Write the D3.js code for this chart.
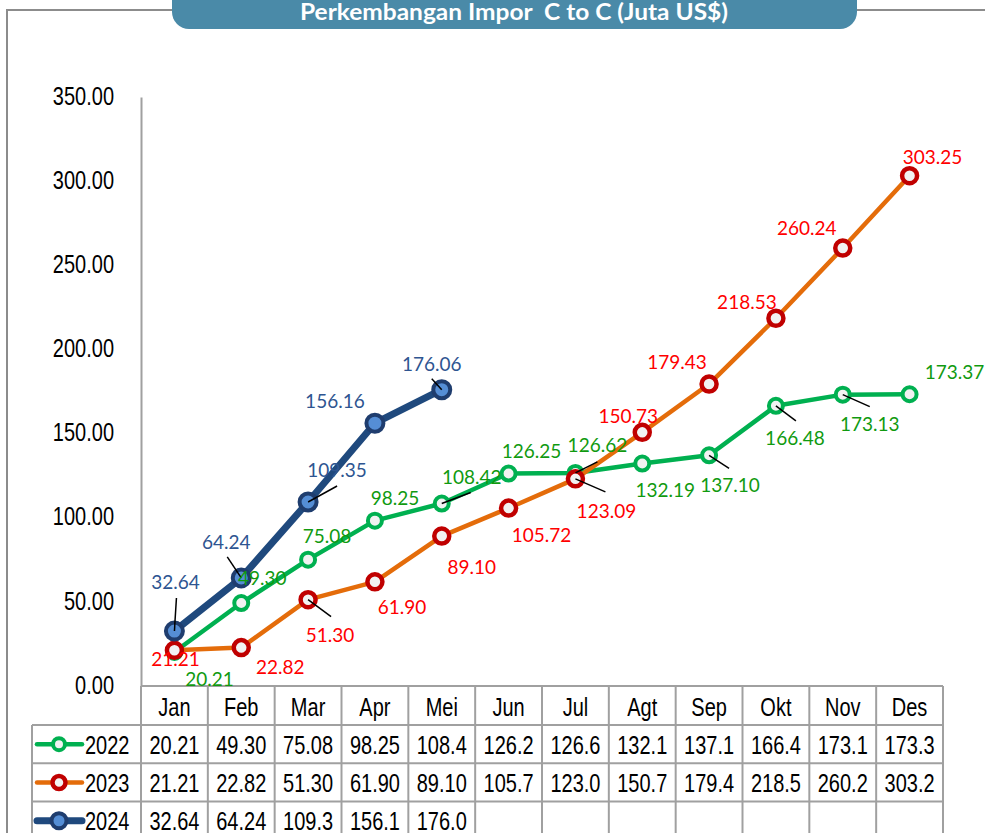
<!DOCTYPE html>
<html>
<head>
<meta charset="utf-8">
<script src="https://cdn.jsdelivr.net/npm/d3@7"></script>
<style>
  body { margin: 0; background: #fff; }
  svg { display: block; }
</style>
</head>
<body>
<div id="chart"></div>
<script>
// ---- data ----
const months = ["Jan", "Feb", "Mar", "Apr", "Mei", "Jun", "Jul", "Agt", "Sep", "Okt", "Nov", "Des"];
const years = ["2022", "2023", "2024"];
const v2022 = [20.21, 49.30, 75.08, 98.25, 108.42, 126.25, 126.62, 132.19, 137.10, 166.48, 173.13, 173.37];
const v2023 = [21.21, 22.82, 51.30, 61.90, 89.10, 105.72, 123.09, 150.73, 179.43, 218.53, 260.24, 303.25];
const v2024 = [32.64, 64.24, 109.35, 156.16, 176.06];
const yTicks = [0, 50, 100, 150, 200, 250, 300, 350];
const chartTitle = "Perkembangan Impor  C to C (Juta US$)";

// label placement (offset of label centre from its point), leader line ends
const labelOff = {
  "2022": [[35,27],[21,-25],[19,-23],[20,-22],[30,-26],[23,-22],[22,-28],[23,27],[21,30],[19,32],[27,30],[45,-22]],
  "2023": [[1,9],[39,20],[22,35],[27,25],[30,31],[33,27],[31,32],[-14,-16],[-32,-22],[-29,-16],[-36,-20],[23,-19]],
  "2024": [[1,-49],[-15,-36],[29,-32],[-40,-22],[-10,-26]]
};
const leaders = {
  "2022": {4: [29,-11], 6: [22,-11], 8: [20,13], 9: [20,15], 10: [27,12]},
  "2023": {2: [23,17], 6: [30,13]},
  "2024": {0: [2,-33], 1: [-14,-21], 2: [29,-16], 4: [-10,-11]}
};

const styles = {
  "2022": { line: "#00b050", lw: 4.5, mStroke: "#00b050", mFill: "#f2f2f2", r: 7, mw: 4, label: "#109a10" },
  "2023": { line: "#e46c0a", lw: 4.5, mStroke: "#c00000", mFill: "#f2f2f2", r: 7.5, mw: 4.5, label: "#ff0000" },
  "2024": { line: "#1f497d", lw: 7, mStroke: "#1f3d6e", mFill: "#558ed5", r: 8.5, mw: 4, label: "#2e5591" }
};

const series = [
  { key: "2022", values: v2022 },
  { key: "2023", values: v2023 },
  { key: "2024", values: v2024 }
];

const width = 985, height = 833,
      plot = { left: 141, right: 943, top: 97, bottom: 686 },
      rowH = 38.3, headH = 39,
      stretch = 1.32,
      grid = "#a0a0a0";

const svg = d3.select("#chart").append("svg")
    .attr("width", width)
    .attr("height", height);

const x = d3.scaleBand(months, [plot.left, plot.right]),
      y = d3.scaleLinear([0, 350], [plot.bottom, plot.top]);
const cx = function(i) { return x(months[i]) + x.bandwidth() / 2; };

// truncated table text, like the narrow Excel cells
function cellText(v) {
  if (v >= 100) return (Math.floor(v * 10 + 1e-6) / 10).toFixed(1);
  return v.toFixed(2);
}

// tall narrow text (reference uses a condensed face)
function tallText(g, tx, ty, str, anchor) {
  return g.append("text")
      .attr("transform", `translate(${tx},${ty}) scale(1,${stretch})`)
      .attr("dy", "0.36em")
      .attr("text-anchor", anchor || "middle")
      .attr("font-family", "'Liberation Sans', Arial, sans-serif")
      .attr("font-size", 20)
      .attr("fill", "#000")
      .text(str);
}

// ---- frame and title banner ----
svg.append("path")
    .attr("d", "M7,833 L7,10 L172,10 M856,10 L985,10")
    .attr("fill", "none")
    .attr("stroke", "#8c8c8c")
    .attr("stroke-width", 2);

svg.append("rect")
    .attr("x", 172).attr("y", -22)
    .attr("width", 685).attr("height", 51)
    .attr("rx", 17)
    .attr("fill", "#4a8aa8");

svg.append("text")
    .attr("transform", "translate(514,20) scale(1,1.2)")
    .attr("text-anchor", "middle")
    .attr("font-family", "Lato, 'Open Sans', sans-serif")
    .attr("font-weight", "bold")
    .attr("font-size", 19)
    .attr("fill", "#fff")
    .style("white-space", "pre")
    .attr("textLength", 428)
    .attr("lengthAdjust", "spacingAndGlyphs")
    .text(chartTitle);

// ---- y axis ----
const yAxis = svg.append("g")
    .attr("transform", `translate(${plot.left},0)`)
    .call(d3.axisLeft(y).tickValues(yTicks).tickSize(0).tickPadding(27)
        .tickFormat(function(d) { return d.toFixed(2); }));
yAxis.select(".domain").attr("stroke", grid).attr("stroke-width", 2);
yAxis.selectAll(".tick text")
    .attr("font-family", "'Liberation Sans', Arial, sans-serif")
    .attr("font-size", 20)
    .attr("fill", "#000")
    .attr("dy", null)
    .attr("transform", `scale(1,${stretch})`)
    .attr("y", 7.2 / stretch);

// ---- data table (acts as category axis) ----
const table = svg.append("g");
const rowTop = plot.bottom + headH;
const tableBottom = height + 10;

table.append("line")
    .attr("x1", plot.left).attr("x2", plot.right)
    .attr("y1", plot.bottom).attr("y2", plot.bottom)
    .attr("stroke", grid).attr("stroke-width", 2);

years.forEach(function(yr, j) {
  table.append("line")
      .attr("x1", 32).attr("x2", plot.right)
      .attr("y1", rowTop + j * rowH).attr("y2", rowTop + j * rowH)
      .attr("stroke", grid).attr("stroke-width", 2);
});

table.selectAll("line.col")
    .data(months.concat(["end"]))
    .join("line")
    .attr("class", "col")
    .attr("x1", function(d, i) { return plot.left + i * x.bandwidth(); })
    .attr("x2", function(d, i) { return plot.left + i * x.bandwidth(); })
    .attr("y1", plot.bottom)
    .attr("y2", tableBottom)
    .attr("stroke", grid).attr("stroke-width", 2);

table.append("line")
    .attr("x1", 32).attr("x2", 32)
    .attr("y1", rowTop).attr("y2", tableBottom)
    .attr("stroke", grid).attr("stroke-width", 2);

months.forEach(function(m, i) {
  tallText(table, cx(i), plot.bottom + headH / 2 + 1, m);
});

series.forEach(function(s, j) {
  const st = styles[s.key];
  const ry = rowTop + j * rowH + rowH / 2;
  s.values.forEach(function(v, i) {
    tallText(table, cx(i), ry, cellText(v));
  });
  // legend key
  table.append("line")
      .attr("x1", 37).attr("x2", 82)
      .attr("y1", ry).attr("y2", ry)
      .attr("stroke", st.line)
      .attr("stroke-width", st.lw)
      .attr("stroke-linecap", "round");
  table.append("circle")
      .attr("cx", 59).attr("cy", ry)
      .attr("r", st.r - 1)
      .attr("fill", st.mFill)
      .attr("stroke", st.mStroke)
      .attr("stroke-width", st.mw);
  tallText(table, 85, ry, s.key, "start");
});

// ---- lines and markers ----
const lineGen = d3.line()
    .x(function(d, i) { return cx(i); })
    .y(function(d) { return y(d); });

const layers = svg.append("g")
    .selectAll("g")
    .data(series)
    .join("g");

layers.append("path")
    .attr("d", function(d) { return lineGen(d.values); })
    .attr("fill", "none")
    .attr("stroke", function(d) { return styles[d.key].line; })
    .attr("stroke-width", function(d) { return styles[d.key].lw; })
    .attr("stroke-linejoin", "round");

layers.each(function(s) {
  const st = styles[s.key];
  d3.select(this).selectAll("circle")
      .data(s.values)
      .join("circle")
      .attr("cx", function(d, i) { return cx(i); })
      .attr("cy", function(d) { return y(d); })
      .attr("r", st.r)
      .attr("fill", st.mFill)
      .attr("stroke", st.mStroke)
      .attr("stroke-width", st.mw);
});

// ---- data labels with leader lines ----
const labels = svg.append("g");
series.forEach(function(s) {
  const st = styles[s.key];
  s.values.forEach(function(v, i) {
    const px = cx(i), py = y(v);
    const ld = leaders[s.key][i];
    if (ld) {
      labels.append("line")
          .attr("x1", px).attr("y1", py)
          .attr("x2", px + ld[0]).attr("y2", py + ld[1])
          .attr("stroke", "#000")
          .attr("stroke-width", 1.5);
    }
  });
});
series.forEach(function(s) {
  const st = styles[s.key];
  s.values.forEach(function(v, i) {
    const off = labelOff[s.key][i];
    labels.append("text")
        .attr("x", cx(i) + off[0])
        .attr("y", y(v) + off[1])
        .attr("dy", "0.36em")
        .attr("text-anchor", "middle")
        .attr("font-family", "Lato, 'Open Sans', sans-serif")
        .attr("font-size", 19)
        .attr("fill", st.label)
        .text(v.toFixed(2));
  });
});
</script>
</body>
</html>
